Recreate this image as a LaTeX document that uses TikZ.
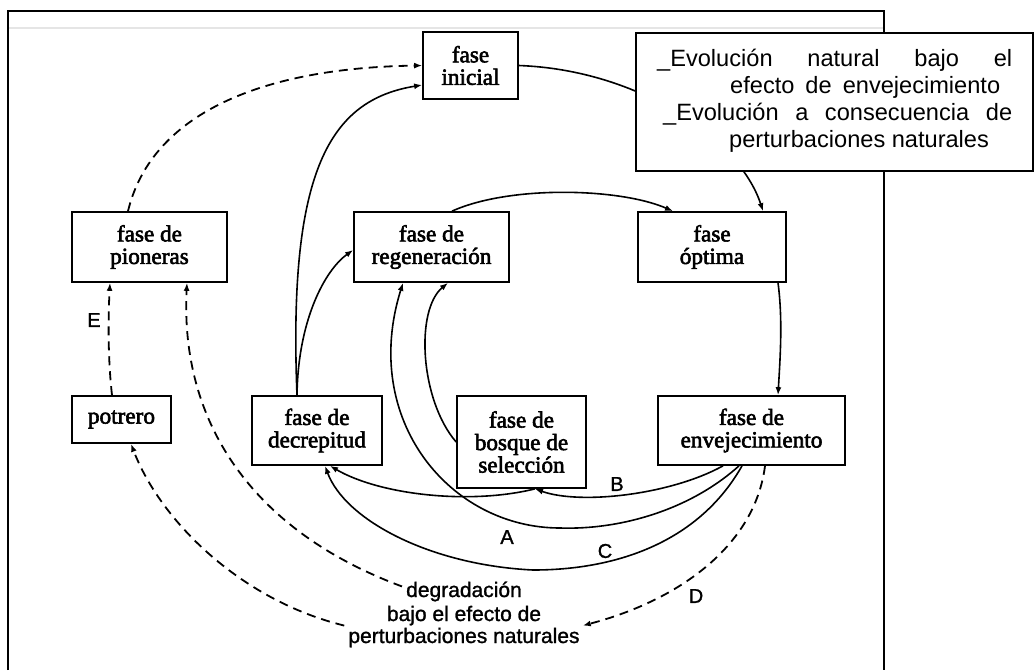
\documentclass[tikz,border=0pt]{standalone}
\usepackage{fontspec}
\setmainfont{Liberation Serif}
\newfontfamily\scanserif{Liberation Serif}[FakeBold=2.5]
\newfontfamily\arialfont{Liberation Sans}
\newfontfamily\arialscan{Liberation Sans}[FakeBold=1.2]
\usetikzlibrary{arrows.meta,calc}
\begin{document}
\begin{tikzpicture}[x=1pt,y=-1pt,
  box/.style={draw,line width=1.7pt,fill=white,inner sep=0pt,align=center,
    font=\scanserif\fontsize{23.2}{22.5}\selectfont},
  con/.style={line width=1.6pt,-{Latex[length=8pt,width=6pt]}},
  dcon/.style={con,line width=1.8pt,dash pattern=on 9pt off 6pt},
  lbl/.style={font=\arialscan\fontsize{20}{20}\selectfont,inner sep=0pt},
  legtxt/.style={font=\arialfont\fontsize{23.6}{23.6}\selectfont,inner sep=0pt,anchor=base west},
  degtxt/.style={font=\arialscan\fontsize{21}{21}\selectfont,inner sep=0pt,anchor=base}]
\useasboundingbox (0,0) rectangle (1035,670);
% frame
\draw[black!10,line width=2pt] (9,28) -- (883,28);
\draw[line width=2pt] (8,670) -- (8,11) -- (884,11) -- (884,670);
% nodes
\node[box,minimum width=95pt,minimum height=67pt] (ini) at (470.5,65.5) {fase\\inicial};
\node[box,minimum width=155pt,minimum height=70pt] (pio) at (149.5,247) {fase de\\pioneras};
\node[box,minimum width=155pt,minimum height=70pt] (reg) at (431.5,247) {fase de\\regeneración};
\node[box,minimum width=148pt,minimum height=70pt] (opt) at (712,247) {fase\\óptima};
\node[box,minimum width=99pt,minimum height=47pt] (pot) at (121.5,419.5) {potrero};
\node[box,minimum width=130pt,minimum height=69pt] (dec) at (317,430.5) {fase de\\decrepitud};
\node[box,minimum width=129pt,minimum height=92pt] (bos) at (521.5,442) {fase de\\bosque de\\selección};
\node[box,minimum width=187pt,minimum height=69pt] (env) at (751.5,430.5) {fase de\\envejecimiento};
% bottom text
\node[degtxt] (deg1) at (464,597) {degradación};
\node[degtxt] (deg2) at (464,621) {bajo el efecto de};
\node[degtxt] (deg3) at (464,643) {perturbaciones naturales};
% labels
\node[lbl] (lA) at (507,537) {A};
\node[lbl] (lB) at (617,484) {B};
\node[lbl] (lC) at (605,551) {C};
\node[lbl] (lD) at (696,596) {D};
\node[lbl] (lE) at (94,320) {E};
% solid connectors
\draw[con] (ini.east) .. controls (640,70) and (740,140) .. ($(opt.north)+(51,0)$);
\draw[con] ($(opt.south)+(66,0)$) .. controls (783,320) and (780,360) .. ($(env.north)+(26.5,0)$);
\draw[con] ($(reg.north)+(20.5,0)$) .. controls (510,185) and (620,188) .. ($(opt.north)+(-39,0)$);
\draw[con] ($(dec.north)+(-20,0)$) .. controls (288,170) and (330,100) .. ($(ini.west)+(0,19.5)$);
\draw[con] ($(dec.north)+(-20,0)$) .. controls (298,320) and (325,270) .. ($(reg.west)+(0,3)$);
\draw[con] (bos.west) .. controls (420,400) and (415,310) .. ($(reg.south)+(16.5,0)$);
\draw[con] ($(env.south)+(-12.5,0)$) .. controls (690,510) and (620,530) .. (560,528)
  .. controls (450,528) and (360,420) .. ($(reg.south)+(-28.5,0)$);
\draw[con] ($(env.south)+(-28.5,0)$) .. controls (670,495) and (580,505) .. ($(bos.south)+(13.5,0)$);
\draw[con] ($(bos.south)+(13.5,0)$) .. controls (470,505) and (380,495) .. ($(dec.south)+(13,0)$);
\draw[con] ($(env.south)+(-9.5,0)$) .. controls (700,540) and (620,570) .. (533,570)
  .. controls (430,565) and (345,520) .. ($(dec.south)+(8,0)$);
% dashed connectors
\draw[dcon] ($(env.south)+(13.5,0)$) .. controls (755,545) and (680,600) .. ($(deg3.east)+(3,-12)$);
\draw[dcon] ($(pot.north)+(-9.5,0)$) .. controls (108,360) and (108,320) .. ($(pio.south)+(-39.5,0)$);
\draw[dcon] ($(pio.north)+(-21.5,0)$) .. controls (150,120) and (250,68) .. (ini.west);
\draw[dcon] ($(deg1.west)+(-4,-5)$) .. controls (250,530) and (180,420) .. ($(pio.south)+(37.5,0)$);
\draw[dcon] ($(deg3.west)+(-4,-12)$) .. controls (240,600) and (160,520) .. ($(pot.south)+(9.5,0)$);
% legend
\node[draw,line width=1.6pt,fill=white,minimum width=397pt,minimum height=138pt,inner sep=0pt] (leg) at (834.5,102) {};
\node[legtxt] (leg1) at (657,66) {\makebox[355pt][s]{\_Evolución natural bajo el}};
\node[legtxt] (leg2) at (730,93) {\makebox[270pt][s]{efecto de envejecimiento}};
\node[legtxt] (leg3) at (663,120) {\makebox[349pt][s]{\_Evolución a consecuencia de}};
\node[legtxt] (leg4) at (729,147) {perturbaciones naturales};
\end{tikzpicture}
\end{document}
